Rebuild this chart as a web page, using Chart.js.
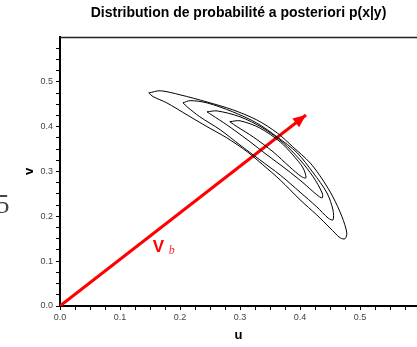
<!DOCTYPE html>
<html><head><meta charset="utf-8">
<script src="https://cdn.jsdelivr.net/npm/chart.js@4.4.0/dist/chart.umd.min.js"></script>
<style>html,body{margin:0;padding:0;background:#fff;overflow:hidden}#wrap{position:relative;width:417px;height:347px}</style>
</head><body><div id="wrap"><canvas id="c" width="417" height="347"></canvas></div>
<script>
// Contour levels of p(x|y), outer to inner, as [u, v] points (closed loops)
const contourOuter = [[0.148,0.475],[0.167,0.480],[0.200,0.471],[0.245,0.455],[0.288,0.4375],[0.328,0.415],[0.362,0.386],[0.388,0.355],[0.417,0.319],[0.438,0.281],[0.455,0.243],[0.470,0.199],[0.478,0.163],[0.475,0.150],[0.467,0.152],[0.450,0.174],[0.428,0.203],[0.400,0.237],[0.367,0.281],[0.338,0.315],[0.312,0.344],[0.278,0.375],[0.245,0.400],[0.212,0.426],[0.178,0.453],[0.155,0.467],[0.148,0.475]];
const contour2 = [[0.205,0.453],[0.217,0.458],[0.245,0.453],[0.288,0.433],[0.328,0.408],[0.362,0.377],[0.395,0.342],[0.422,0.297],[0.445,0.252],[0.455,0.214],[0.455,0.192],[0.447,0.196],[0.428,0.221],[0.400,0.254],[0.367,0.292],[0.333,0.326],[0.300,0.359],[0.267,0.393],[0.233,0.422],[0.212,0.444],[0.205,0.453]];
const contour3 = [[0.245,0.433],[0.262,0.435],[0.300,0.422],[0.338,0.397],[0.372,0.364],[0.400,0.326],[0.422,0.288],[0.437,0.252],[0.437,0.241],[0.428,0.248],[0.405,0.275],[0.378,0.304],[0.345,0.337],[0.312,0.371],[0.278,0.404],[0.253,0.426],[0.245,0.433]];
const contourInner = [[0.283,0.411],[0.300,0.413],[0.333,0.397],[0.367,0.366],[0.388,0.337],[0.405,0.308],[0.410,0.286],[0.403,0.288],[0.383,0.310],[0.355,0.344],[0.322,0.377],[0.295,0.400],[0.283,0.411]];
// Vector V_b
const arrowTail = [0, 0];
const arrowTip = [0.41, 0.426];
// Tick labels
const uTickLabels = ['0.0','0.1','0.2','0.3','0.4','0.5'];
const vTickLabels = ['0.0','0.1','0.2','0.3','0.4','0.5'];
const titleText = 'Distribution de probabilité a posteriori p(x|y)';
const vbAnchor = [0.168, 0.136];

const toPts = a => a.map(p => ({x: p[0], y: p[1]}));
const contourStyle = {showLine: true, pointRadius: 0, borderColor: '#000', borderWidth: 1, tension: 0.3, fill: false};
const SANS = 'Arial, "Liberation Sans", sans-serif';

function labelFor(list) {
  return function(value) {
    const k = Math.round(value * 10);
    if (Math.abs(value * 10 - k) < 1e-6 && k < list.length) return list[k];
    return '';
  };
}

const topBorder = {
  id: 'topBorder',
  afterDraw(chart) {
    const {ctx, chartArea: a} = chart;
    ctx.save();
    ctx.strokeStyle = '#222'; ctx.lineWidth = 1.5;
    ctx.beginPath(); ctx.moveTo(a.left, a.top + 0.5); ctx.lineTo(a.right, a.top + 0.5); ctx.stroke();
    ctx.restore();
  }
};
const arrowHead = {
  id: 'arrowHead',
  afterDatasetsDraw(chart) {
    const meta = chart.getDatasetMeta(4);
    const p0 = meta.data[0], p1 = meta.data[1];
    const ang = Math.atan2(p1.y - p0.y, p1.x - p0.x);
    const L = 13, W = 5.5;
    const {ctx} = chart;
    ctx.save();
    ctx.fillStyle = '#ff0000';
    ctx.beginPath();
    ctx.moveTo(p1.x, p1.y);
    ctx.lineTo(p1.x - L * Math.cos(ang) + W * Math.sin(ang), p1.y - L * Math.sin(ang) - W * Math.cos(ang));
    ctx.lineTo(p1.x - L * Math.cos(ang) - W * Math.sin(ang), p1.y - L * Math.sin(ang) + W * Math.cos(ang));
    ctx.closePath(); ctx.fill();
    // label V_b
    const x = chart.scales.x.getPixelForValue(vbAnchor[0]);
    const y = chart.scales.y.getPixelForValue(vbAnchor[1]);
    ctx.textBaseline = 'alphabetic'; ctx.textAlign = 'left';
    ctx.font = 'bold 17px ' + SANS;
    ctx.fillText('V', x - 8, y + 7);
    ctx.font = 'italic 12px "Liberation Serif", "DejaVu Serif", serif';
    ctx.fillStyle = '#ff3030';
    ctx.fillText('b', x + 8, y + 9);
    // stray glyph at the left edge
    ctx.fillStyle = '#444';
    ctx.font = '27px "Liberation Serif", "DejaVu Serif", serif';
    ctx.fillText('5', -4, 213);
    ctx.restore();
  }
};

new Chart(document.getElementById('c'), {
  type: 'scatter',
  data: {
    datasets: [
      Object.assign({data: toPts(contourOuter)}, contourStyle),
      Object.assign({data: toPts(contour2)}, contourStyle),
      Object.assign({data: toPts(contour3)}, contourStyle),
      Object.assign({data: toPts(contourInner)}, contourStyle),
      {data: toPts([arrowTail, arrowTip]), showLine: true, pointRadius: 0, borderColor: '#ff0000', borderWidth: 3, tension: 0}
    ]
  },
  options: {
    responsive: false, animation: false, devicePixelRatio: 1,
    layout: {padding: 0},
    plugins: {
      legend: {display: false}, tooltip: {enabled: false},
      title: {display: true, text: titleText, fullSize: false, color: '#000',
        font: {family: SANS, size: 14, weight: 'bold'},
        padding: {top: 4.5, bottom: 15.7}}
    },
    scales: {
      x: {
        type: 'linear', min: 0, max: 0.595,
        ticks: {stepSize: 0.025, includeBounds: false, autoSkip: false, maxRotation: 0, minRotation: 0,
          callback: labelFor(uTickLabels), color: '#444', padding: 2,
          font: {family: SANS, size: 9}},
        grid: {drawOnChartArea: false, drawTicks: true, tickLength: 4, tickColor: '#000', tickWidth: 1},
        border: {display: true, color: '#000', width: 2},
        title: {display: true, text: 'u', color: '#000', padding: {top: 0, bottom: 4},
          font: {family: SANS, size: 13, weight: 'bold'}},
        afterFit(s) { s.height = 41; }
      },
      y: {
        type: 'linear', min: 0, max: 0.5999,
        ticks: {stepSize: 0.025, includeBounds: false, autoSkip: false,
          callback: labelFor(vTickLabels), color: '#444', padding: 3,
          font: {family: SANS, size: 9}},
        grid: {drawOnChartArea: false, drawTicks: true, tickLength: 4, tickColor: '#000', tickWidth: 1},
        border: {display: true, color: '#000', width: 2},
        title: {display: true, text: 'v', color: '#000', padding: {top: 22, bottom: 0},
          font: {family: SANS, size: 13, weight: 'bold'}},
        afterFit(s) { s.width = 60; }
      }
    }
  },
  plugins: [topBorder, arrowHead]
});
</script></body></html>
